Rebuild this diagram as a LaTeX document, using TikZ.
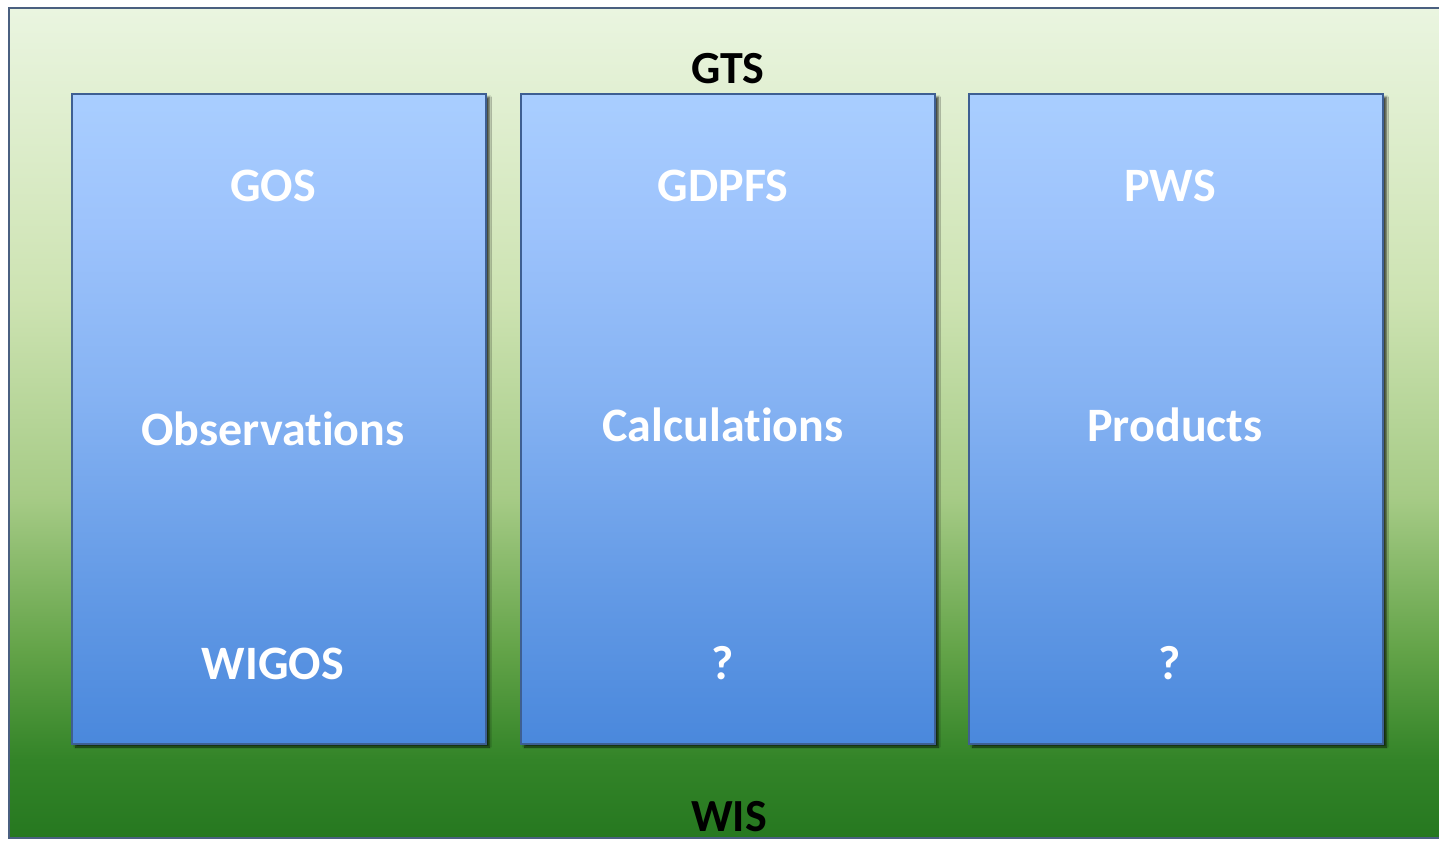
\documentclass[tikz,border=0pt]{standalone}
\usepackage{fontspec}
\setmainfont[Ligatures=NoCommon]{Carlito}
\usetikzlibrary{shadows.blur}
\definecolor{g0}{HTML}{267820}
\definecolor{g1}{HTML}{338428}
\definecolor{g2}{HTML}{64A449}
\definecolor{g3}{HTML}{A6CB86}
\definecolor{g4}{HTML}{CDE3B2}
\definecolor{g5}{HTML}{EAF5E0}
\definecolor{b0}{HTML}{4A88DC}
\definecolor{b1}{HTML}{5F97E4}
\definecolor{b2}{HTML}{86B3F3}
\definecolor{b3}{HTML}{9DC3FC}
\definecolor{b4}{HTML}{A9CEFF}
\definecolor{outerline}{HTML}{4A6080}
\definecolor{boxline}{HTML}{3E5F92}
\pgfdeclareverticalshading{greenbg}{100bp}{color(0bp)=(g0); color(25bp)=(g0); color(29.7bp)=(g1); color(36.4bp)=(g2); color(45.5bp)=(g3); color(57.5bp)=(g4); color(75bp)=(g5); color(100bp)=(g5)}
\pgfdeclareverticalshading{bluebox}{100bp}{color(0bp)=(b0); color(25bp)=(b0); color(35bp)=(b1); color(52bp)=(b2); color(65bp)=(b3); color(75bp)=(b4); color(100bp)=(b4)}
\tikzset{
  panel/.style={draw=boxline, line width=1.6pt, shading=bluebox, minimum width=414pt, minimum height=650pt, inner sep=0pt, outer sep=0pt,
    blur shadow={shadow xshift=3.5pt, shadow yshift=-3pt, shadow blur steps=6, shadow opacity=70}},
  wtxt/.style={text=white, font=\bfseries\fontsize{48}{50}\selectfont, anchor=base, inner sep=0pt},
  ktxt/.style={text=black, font=\bfseries\fontsize{46}{50}\selectfont, anchor=base, inner sep=0pt}
}
\begin{document}
\begin{tikzpicture}[x=1pt,y=-1pt]
\useasboundingbox (0,0) rectangle (1439,842);
\fill[white] (0,0) rectangle (1439,842);
\node[draw=outerline, line width=2.5pt, shading=greenbg, minimum width=1440pt, minimum height=830pt, inner sep=0pt, outer sep=0pt, anchor=north west] (outer) at (9,8) {};
\node[ktxt] (gts) at (728,84) {GTS};
\node[ktxt] (wis) at (729,831) {WIS};
\node[panel, anchor=north west] (b1) at (72,94) {};
\node[panel, anchor=north west] (b2) at (521,94) {};
\node[panel, anchor=north west] (b3) at (969,94) {};
\node[wtxt] (gos) at (273,202) {GOS};
\node[wtxt] (obs) at (273,445) {Observations};
\node[wtxt] (wigos) at (273,679) {WIGOS};
\node[wtxt] (gdpfs) at (723,202) {GDPFS};
\node[wtxt] (calc) at (723,441) {Calculations};
\node[wtxt] (q1) at (723,679) {?};
\node[wtxt] (pws) at (1170,202) {PWS};
\node[wtxt] (prod) at (1175,441) {Products};
\node[wtxt] (q2) at (1170,679) {?};
\end{tikzpicture}
\end{document}
